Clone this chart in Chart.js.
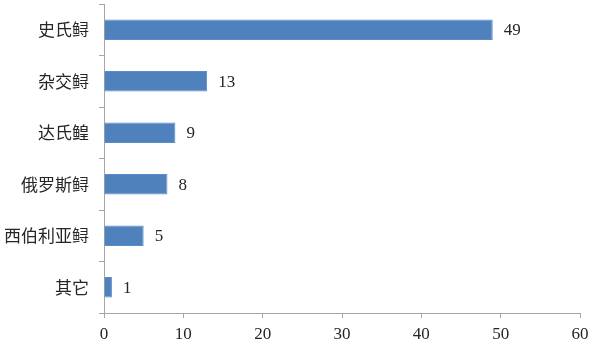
<!DOCTYPE html>
<html>
<head>
<meta charset="utf-8">
<script src="https://cdn.jsdelivr.net/npm/chart.js@4"></script>
<style>
html,body{margin:0;padding:0;background:#fff;}
#wrap{width:600px;height:346px;position:relative;}
</style>
</head>
<body>
<div id="wrap"><canvas id="c" width="600" height="346"></canvas></div>
<script>
const categories = ["史氏鲟", "杂交鲟", "达氏鳇", "俄罗斯鲟", "西伯利亚鲟", "其它"];
const values = [49, 13, 9, 8, 5, 1];
const xTicks = [0, 10, 20, 30, 40, 50, 60];

const axisColor = "#A6A6A6";
const textColor = "#262626";

const labelPlugin = {
  id: "barLabels",
  afterDatasetsDraw(chart) {
    const ctx = chart.ctx;
    const meta = chart.getDatasetMeta(0);
    ctx.save();
    ctx.font = "17px 'Liberation Serif', serif";
    ctx.fillStyle = textColor;
    ctx.textAlign = "left";
    ctx.textBaseline = "middle";
    meta.data.forEach((bar, i) => {
      ctx.fillText(String(values[i]), bar.x + 11, bar.y + 1);
    });
    ctx.restore();
  }
};

new Chart(document.getElementById("c"), {
  type: "bar",
  data: {
    labels: categories,
    datasets: [{
      data: values,
      backgroundColor: "#4F81BD",
      borderColor: "#5B8CC6",
      borderWidth: 1,
      categoryPercentage: 0.8,
      barPercentage: 0.5
    }]
  },
  options: {
    indexAxis: "y",
    responsive: false,
    animation: false,
    layout: { padding: { left: 0, right: 20, top: 4, bottom: 0 } },
    plugins: { legend: { display: false }, tooltip: { enabled: false } },
    scales: {
      x: {
        min: 0, max: 60,
        afterBuildTicks(axis) { axis.ticks = xTicks.map(v => ({ value: v })); },
        afterFit(s) { s.height = 33; s.paddingLeft = 0; s.paddingRight = 0; },
        grid: { drawOnChartArea: false, drawTicks: true, tickLength: 5, color: axisColor },
        border: { color: axisColor, width: 1 },
        ticks: { color: textColor, padding: 6, font: { family: "'Liberation Serif', serif", size: 17 } }
      },
      y: {
        afterFit(s) { s.width = 104; s.paddingTop = 0; s.paddingBottom = 0; },
        grid: { drawOnChartArea: false, drawTicks: true, tickLength: 5, color: axisColor, offset: true },
        border: { color: axisColor, width: 1 },
        ticks: { color: textColor, padding: 10, font: { family: "'Noto Sans CJK SC', sans-serif", size: 17 } }
      }
    }
  },
  plugins: [labelPlugin]
});
</script>
</body>
</html>
